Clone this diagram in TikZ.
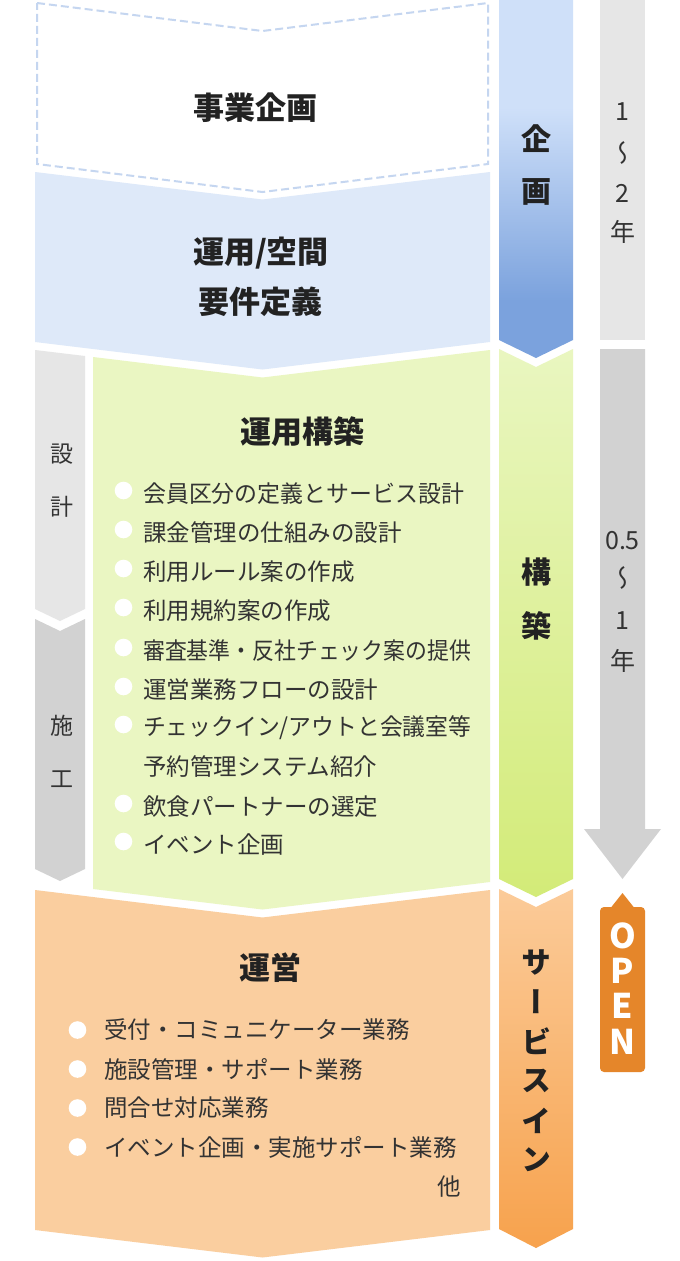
\documentclass[tikz,border=0pt]{standalone}
\usepackage{graphicx}
\usepackage{fontspec}
\setmainfont{Noto Sans CJK JP}
\newfontfamily\jpv[RawFeature=+vert]{Noto Sans CJK JP}
\definecolor{txt}{HTML}{222222}
\definecolor{txtb}{HTML}{333333}
\definecolor{blueA}{HTML}{DEE9F9}
\definecolor{dashc}{HTML}{C5D6F0}
\definecolor{greenA}{HTML}{EAF6C2}
\definecolor{orangeA}{HTML}{FACE9F}
\definecolor{grayL}{HTML}{E6E6E6}
\definecolor{grayD}{HTML}{D2D2D2}
\definecolor{bbTop}{HTML}{CFE0F9}
\definecolor{bbBot}{HTML}{7BA2DD}
\definecolor{gbTop}{HTML}{E9F6C0}
\definecolor{gbBot}{HTML}{D3EB78}
\definecolor{obTop}{HTML}{FBCB99}
\definecolor{obBot}{HTML}{F7A24D}
\definecolor{openc}{HTML}{E5862A}
\pgfdeclareverticalshading{blueshade}{100bp}{color(0bp)=(bbBot); color(33bp)=(bbBot); color(60bp)=(bbTop); color(100bp)=(bbTop)}
\tikzset{
  title/.style={font=\bfseries\fontsize{31}{31}\selectfont, text=txt, inner sep=0},
  vbold/.style={font=\jpv\bfseries\fontsize{30}{30}\selectfont, text=txt, inner sep=0},
  vthin/.style={font=\jpv\fontsize{25}{25}\selectfont, text=txtb, inner sep=0},
  vside/.style={font=\fontsize{23}{23}\selectfont, text=txtb, inner sep=0},
  item/.style={font=\fontsize{23.5}{23.5}\selectfont, text=txtb, inner sep=0, anchor=west},
  bullet/.style={fill=white, draw=none},
  openl/.style={font=\bfseries\fontsize{34}{34}\selectfont, text=white, inner sep=0}
}
\begin{document}
\begin{tikzpicture}[x=1pt,y=-1pt]
\useasboundingbox (0,0) rectangle (680,1261);
\fill[white] (0,0) rectangle (680,1261);

% ---- main column blocks ----
\draw[dashc, line width=2pt, dash pattern=on 8pt off 4pt]
  (37,3) -- (262.5,31) -- (488,3) -- (488,164) -- (262.5,192) -- (37,164) -- cycle;
\fill[blueA] (35,172) -- (262.5,199.5) -- (490,172) -- (490,342) -- (262.5,369.5) -- (35,342) -- cycle;
\fill[grayL] (35,350) -- (85,356) -- (85,609) -- (60,621) -- (35,609) -- cycle;
\fill[grayD] (35,619) -- (60,631) -- (85,619) -- (85,869) -- (60,881) -- (35,869) -- cycle;
\fill[greenA] (93,357) -- (262.5,377.5) -- (490,350) -- (490,882) -- (262.5,909.5) -- (93,889) -- cycle;
\fill[orangeA] (35,890) -- (262.5,917.5) -- (490,890) -- (490,1230) -- (262.5,1257.5) -- (35,1230) -- cycle;

% ---- phase bar ----
\shade[shading=blueshade] (499,0) -- (573,0) -- (573,340) -- (536,358) -- (499,340) -- cycle;
\shade[top color=gbTop, bottom color=gbBot] (499,349) -- (536,367) -- (573,349) -- (573,879) -- (536,897) -- (499,879) -- cycle;
\shade[top color=obTop, bottom color=obBot] (499,889) -- (536,907) -- (573,889) -- (573,1229) -- (536,1248) -- (499,1229) -- cycle;

% ---- duration column ----
\fill[grayL] (600,0) rectangle (645,340);
\fill[grayD] (600,349) -- (645,349) -- (645,829) -- (661,829) -- (622.5,879) -- (584,829) -- (600,829) -- cycle;
\fill[openc, rounded corners=4pt] (600,907) rectangle (645,1072);
\fill[openc] (611,907.5) -- (622.5,893) -- (634,907.5) -- cycle;

% ---- titles ----
\node[title] (jigyo) at (255,107.5) {事業企画};
\node[title] (unyo1) at (261,253.5) {運用/空間};
\node[title] (unyo2) at (260,301.5) {要件定義};
\node[title] (kochiku) at (302,432) {運用構築};
\node[title] (uneiT) at (270,968) {運営};

% ---- phase labels ----
\node[vbold] (p1a) at (536,139) {企};
\node[vbold] (p1b) at (536,192) {画};
\node[vbold] (p2a) at (536,572.5) {構};
\node[vbold] (p2b) at (536,626) {築};
\foreach \c [count=\i from 0] in {サ,ー,ビ,ス,イ,ン}
  \node[vbold] (p3\i) at (536,962+39.6*\i) {\c};

% ---- side labels ----
\node[vside] (s1a) at (62,454) {設};
\node[vside] (s1b) at (62,507) {計};
\node[vside] (s2a) at (62,726) {施};
\node[vside] (s2b) at (62,779) {工};

% ---- durations ----
\node[vthin] (d1a) at (622.5,112) {1};
\node[vthin] (d1b) at (622.5,153) {〜};
\node[vthin] (d1c) at (622.5,193) {2};
\node[vthin] (d1d) at (622.5,232) {年};
\node[vthin] (d2a) at (622.5,541) {0.5};
\node[vthin] (d2b) at (622.5,578) {〜};
\node[vthin] (d2c) at (622.5,621) {1};
\node[vthin] (d2d) at (622.5,661) {年};

% ---- OPEN ----
\node[openl] (o1) at (622.5,935.5) {O};
\node[openl] (o2) at (622.5,970.5) {P};
\node[openl] (o3) at (622.5,1005.5) {E};
\node[openl] (o4) at (622.5,1042) {N};

% ---- green list ----
\foreach \t/\y [count=\i] in {{\scalebox{0.975}[1]{会員区分の定義とサービス設計}}/494, {課金管理の仕組みの設計}/533, {利用ルール案の作成}/572, {利用規約案の作成}/611, {\scalebox{0.93}[1]{審査基準・反社チェック案の提供}}/651, {運営業務フローの設計}/690, {\scalebox{0.97}[1]{チェックイン/アウトと会議室等}}/728, {飲食パートナーの選定}/807, {イベント企画}/845}{
  \fill[bullet] (123.5,\y-3.5) circle (8.8);
  \node[item] (g\i) at (143,\y) {\t};
}
\node[item] (g7b) at (143,767) {予約管理システム紹介};

% ---- orange list ----
\foreach \t/\y [count=\i] in {{受付・コミュニケーター業務}/1030, {施設管理・サポート業務}/1069, {問合せ対応業務}/1108, {イベント企画・実施サポート業務}/1147}{
  \fill[bullet] (77.5,\y) circle (8.8);
  \node[item] (u\i) at (104,\y) {\t};
}
\node[item, anchor=center] (hoka) at (449,1187) {他};
\end{tikzpicture}
\end{document}
